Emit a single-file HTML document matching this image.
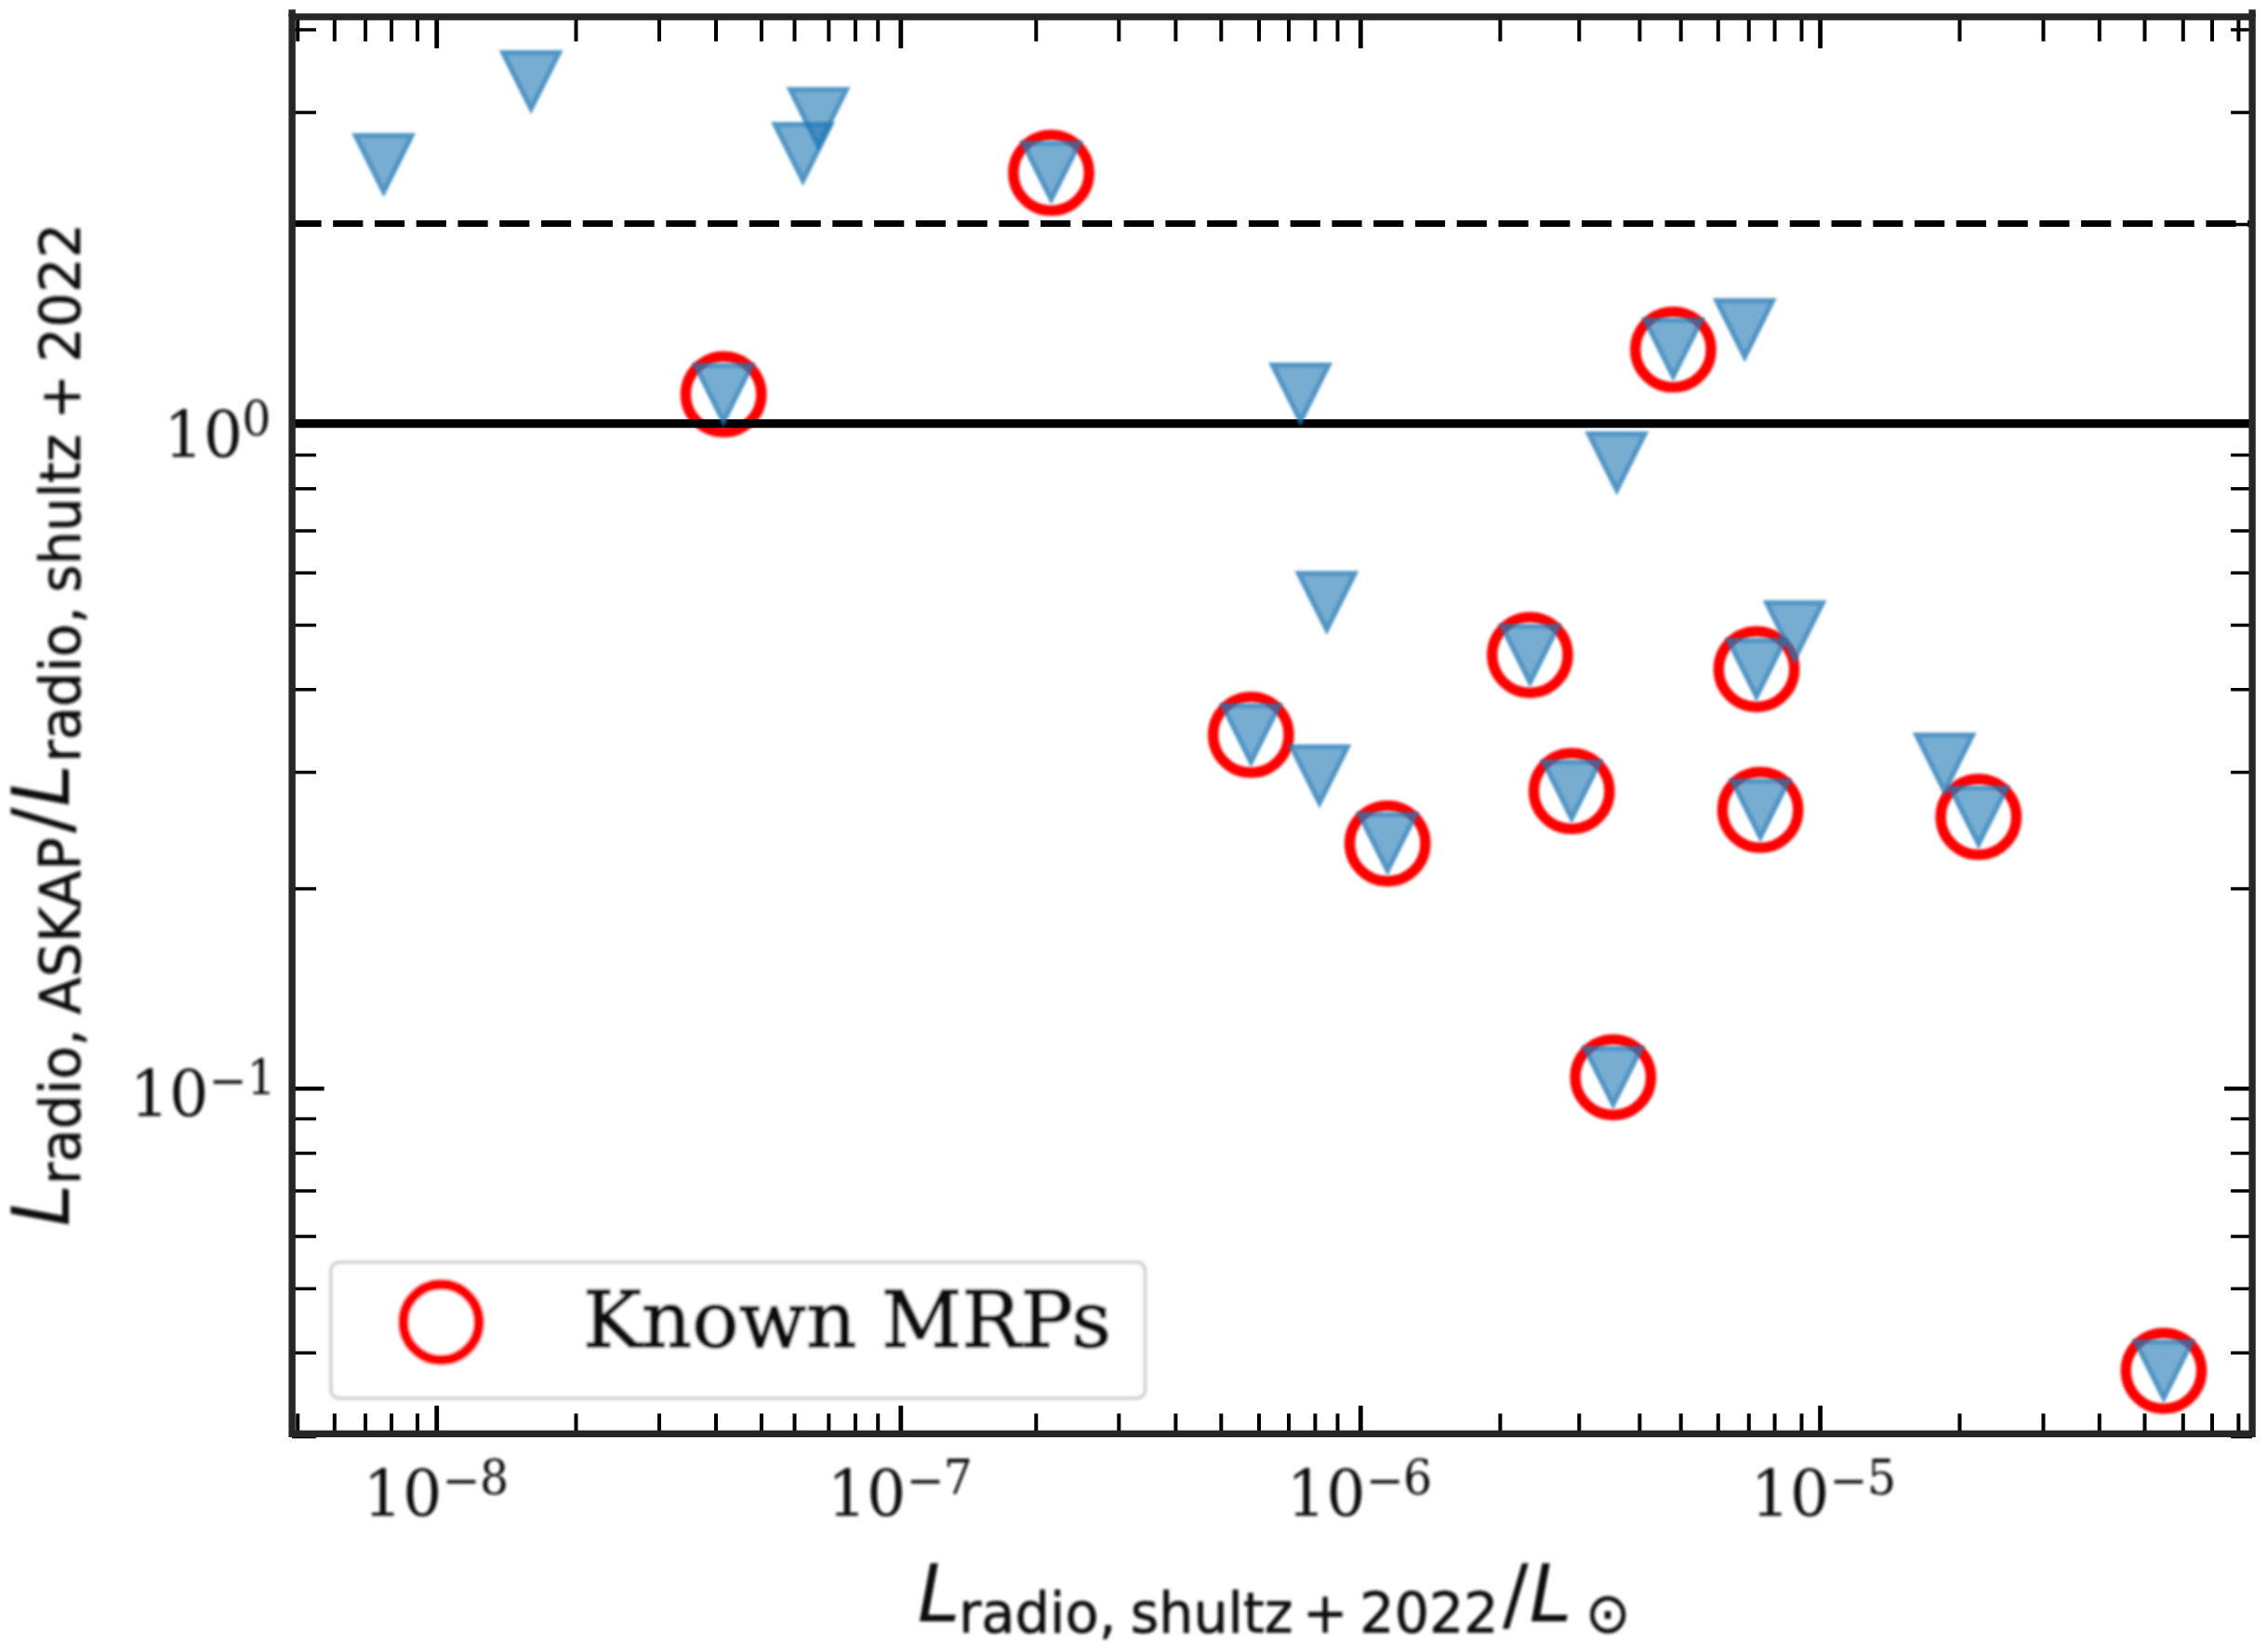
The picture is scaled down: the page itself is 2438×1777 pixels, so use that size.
<!DOCTYPE html>
<html lang="en"><head><meta charset="utf-8"><title>L radio ASKAP / L radio shultz+2022</title>
<style>html,body{margin:0;padding:0;background:#fff}body{width:2438px;height:1777px;overflow:hidden}svg{display:block}.se{font-family:"DejaVu Serif","Liberation Serif",serif;fill:#111}.sa{font-family:"DejaVu Sans","Liberation Sans",sans-serif;fill:#111}.it{font-style:italic}</style></head><body>
<svg width="2438" height="1777" viewBox="0 0 2438 1777">
<rect width="2438" height="1777" fill="#fff"/>
<defs><filter id="soft" x="0" y="0" width="2438" height="1777" filterUnits="userSpaceOnUse"><feGaussianBlur stdDeviation="1.5"/></filter><filter id="crisp" x="0" y="0" width="2438" height="1777" filterUnits="userSpaceOnUse"><feGaussianBlur stdDeviation="0.7"/></filter></defs>
<g id="rings" filter="url(#soft)">
<g fill="none" stroke="#ff0000" stroke-width="11.3">
<circle cx="1130.5" cy="185.9" r="40.7"/>
<circle cx="778.1" cy="424.2" r="40.7"/>
<circle cx="1799.4" cy="376.0" r="40.7"/>
<circle cx="1645.4" cy="704.6" r="40.7"/>
<circle cx="1889.0" cy="719.8" r="40.7"/>
<circle cx="1345.3" cy="790.4" r="40.7"/>
<circle cx="1492.2" cy="907.3" r="40.7"/>
<circle cx="1690.2" cy="850.9" r="40.7"/>
<circle cx="1893.1" cy="871.2" r="40.7"/>
<circle cx="2127.8" cy="878.7" r="40.7"/>
<circle cx="1734.8" cy="1158.8" r="40.7"/>
<circle cx="2326.9" cy="1474.6" r="40.7"/>
</g>
</g>
<g id="frame" filter="url(#crisp)">
<line x1="313.4" y1="240.5" x2="2422.1" y2="240.5" stroke="#000" stroke-width="6.9" stroke-dasharray="32.2 12.56" stroke-dashoffset="0"/>
<line x1="314.1" y1="455.7" x2="2422.1" y2="455.7" stroke="#000" stroke-width="9.2"/>
<path d="M320.2 18.1v26.3M320.2 1542.3v-21.8M359.8 18.1v26.3M359.8 1542.3v-21.8M393.0 18.1v26.3M393.0 1542.3v-21.8M421.0 18.1v26.3M421.0 1542.3v-21.8M448.9 18.1v26.3M448.9 1542.3v-21.8M619.5 18.1v26.3M619.5 1542.3v-21.8M709.0 18.1v26.3M709.0 1542.3v-21.8M770.0 18.1v26.3M770.0 1542.3v-21.8M818.9 18.1v26.3M818.9 1542.3v-21.8M854.5 18.1v26.3M854.5 1542.3v-21.8M891.3 18.1v26.3M891.3 1542.3v-21.8M919.9 18.1v26.3M919.9 1542.3v-21.8M944.2 18.1v26.3M944.2 1542.3v-21.8M1114.3 18.1v26.3M1114.3 1542.3v-21.8M1203.3 18.1v26.3M1203.3 1542.3v-21.8M1264.4 18.1v26.3M1264.4 1542.3v-21.8M1313.3 18.1v26.3M1313.3 1542.3v-21.8M1354.0 18.1v26.3M1354.0 1542.3v-21.8M1386.0 18.1v26.3M1386.0 1542.3v-21.8M1414.4 18.1v26.3M1414.4 1542.3v-21.8M1438.5 18.1v26.3M1438.5 1542.3v-21.8M1613.4 18.1v26.3M1613.4 1542.3v-21.8M1698.3 18.1v26.3M1698.3 1542.3v-21.8M1763.4 18.1v26.3M1763.4 1542.3v-21.8M1807.7 18.1v26.3M1807.7 1542.3v-21.8M1847.8 18.1v26.3M1847.8 1542.3v-21.8M1880.8 18.1v26.3M1880.8 1542.3v-21.8M1908.6 18.1v26.3M1908.6 1542.3v-21.8M1937.5 18.1v26.3M1937.5 1542.3v-21.8M2107.5 18.1v26.3M2107.5 1542.3v-21.8M2197.5 18.1v26.3M2197.5 1542.3v-21.8M2257.8 18.1v26.3M2257.8 1542.3v-21.8M2306.5 18.1v26.3M2306.5 1542.3v-21.8M2347.8 18.1v26.3M2347.8 1542.3v-21.8M2379.0 18.1v26.3M2379.0 1542.3v-21.8M2407.4 18.1v26.3M2407.4 1542.3v-21.8" stroke="#000" stroke-width="4.0" fill="none"/>
<path d="M314.1 31.9h25.9M2422.1 31.9h-23.0M314.1 121.0h25.9M2422.1 121.0h-23.0M314.1 241.4h25.9M2422.1 241.4h-23.0M314.1 489.4h25.9M2422.1 489.4h-23.0M314.1 525.7h25.9M2422.1 525.7h-23.0M314.1 571.0h25.9M2422.1 571.0h-23.0M314.1 616.2h25.9M2422.1 616.2h-23.0M314.1 672.5h25.9M2422.1 672.5h-23.0M314.1 741.8h25.9M2422.1 741.8h-23.0M314.1 830.7h25.9M2422.1 830.7h-23.0M314.1 956.0h25.9M2422.1 956.0h-23.0M314.1 1203.5h25.9M2422.1 1203.5h-23.0M314.1 1240.4h25.9M2422.1 1240.4h-23.0M314.1 1280.9h25.9M2422.1 1280.9h-23.0M314.1 1330.0h25.9M2422.1 1330.0h-23.0M314.1 1386.2h25.9M2422.1 1386.2h-23.0M314.1 1455.3h25.9M2422.1 1455.3h-23.0M314.1 1545.4h25.9M2422.1 1545.4h-23.0" stroke="#000" stroke-width="3.5" fill="none"/>
<path d="M469.7 18.1v33.9M469.7 1542.3v-30.3M968.8 18.1v33.9M968.8 1542.3v-30.3M1463.3 18.1v33.9M1463.3 1542.3v-30.3M1957.6 18.1v33.9M1957.6 1542.3v-30.3" stroke="#000" stroke-width="4.8" fill="none"/>
<path d="M314.1 455.7h34.5M2422.1 455.7h-30.0M314.1 1171.0h34.5M2422.1 1171.0h-30.0" stroke="#000" stroke-width="4.3" fill="none"/>
<rect x="314.1" y="18.1" width="2108.0" height="1524.2" fill="none" stroke="#262626" stroke-width="7.4"/>
<path d="M314.1 10.2V18.1M2422.1 10.2V18.1" stroke="#262626" stroke-width="7.4" fill="none"/>
</g>
<g id="marks" filter="url(#soft)">
<g fill="#1f77b4" fill-opacity="0.6" stroke="#1f77b4" stroke-opacity="0.46" stroke-width="5.4" stroke-linejoin="miter" stroke-miterlimit="10">
<path stroke="none" d="M378.2 143.2L447.0 143.2L412.6 212.0Z"/>
<path fill="none" d="M382.6 145.9L442.6 145.9L412.6 206.0Z"/>
<path stroke="none" d="M536.7 54.0L605.5 54.0L571.1 122.8Z"/>
<path fill="none" d="M541.1 56.7L601.1 56.7L571.1 116.8Z"/>
<path stroke="none" d="M829.1 131.2L897.9 131.2L863.5 200.0Z"/>
<path fill="none" d="M833.5 133.9L893.5 133.9L863.5 194.0Z"/>
<path stroke="none" d="M845.6 93.7L914.4 93.7L880.0 162.5Z"/>
<path fill="none" d="M850.0 96.4L910.0 96.4L880.0 156.5Z"/>
<path stroke="none" d="M1096.1 151.4L1164.9 151.4L1130.5 220.2Z"/>
<path fill="none" d="M1100.5 154.1L1160.5 154.1L1130.5 214.2Z"/>
<path stroke="none" d="M743.7 390.4L812.5 390.4L778.1 459.2Z"/>
<path fill="none" d="M748.1 393.1L808.1 393.1L778.1 453.2Z"/>
<path stroke="none" d="M1364.2 390.0L1433.0 390.0L1398.6 458.8Z"/>
<path fill="none" d="M1368.6 392.7L1428.6 392.7L1398.6 452.8Z"/>
<path stroke="none" d="M1765.0 341.8L1833.8 341.8L1799.4 410.6Z"/>
<path fill="none" d="M1769.4 344.5L1829.4 344.5L1799.4 404.6Z"/>
<path stroke="none" d="M1841.9 320.8L1910.7 320.8L1876.3 389.6Z"/>
<path fill="none" d="M1846.3 323.5L1906.3 323.5L1876.3 383.6Z"/>
<path stroke="none" d="M1704.3 463.9L1773.1 463.9L1738.7 532.7Z"/>
<path fill="none" d="M1708.7 466.6L1768.7 466.6L1738.7 526.7Z"/>
<path stroke="none" d="M1392.4 614.2L1461.2 614.2L1426.8 683.0Z"/>
<path fill="none" d="M1396.8 616.9L1456.8 616.9L1426.8 677.0Z"/>
<path stroke="none" d="M1611.0 671.0L1679.8 671.0L1645.4 739.8Z"/>
<path fill="none" d="M1615.4 673.7L1675.4 673.7L1645.4 733.8Z"/>
<path stroke="none" d="M1854.6 686.2L1923.4 686.2L1889.0 755.0Z"/>
<path fill="none" d="M1859.0 688.9L1919.0 688.9L1889.0 749.0Z"/>
<path stroke="none" d="M1895.6 645.8L1964.4 645.8L1930.0 714.6Z"/>
<path fill="none" d="M1900.0 648.5L1960.0 648.5L1930.0 708.6Z"/>
<path stroke="none" d="M1310.9 756.6L1379.7 756.6L1345.3 825.4Z"/>
<path fill="none" d="M1315.3 759.3L1375.3 759.3L1345.3 819.4Z"/>
<path stroke="none" d="M1384.6 800.7L1453.4 800.7L1419.0 869.5Z"/>
<path fill="none" d="M1389.0 803.4L1449.0 803.4L1419.0 863.5Z"/>
<path stroke="none" d="M1457.8 873.5L1526.6 873.5L1492.2 942.3Z"/>
<path fill="none" d="M1462.2 876.2L1522.2 876.2L1492.2 936.3Z"/>
<path stroke="none" d="M1655.8 817.1L1724.6 817.1L1690.2 885.9Z"/>
<path fill="none" d="M1660.2 819.8L1720.2 819.8L1690.2 879.9Z"/>
<path stroke="none" d="M1858.7 837.4L1927.5 837.4L1893.1 906.2Z"/>
<path fill="none" d="M1863.1 840.1L1923.1 840.1L1893.1 900.2Z"/>
<path stroke="none" d="M2056.8 787.9L2125.6 787.9L2091.2 856.7Z"/>
<path fill="none" d="M2061.2 790.6L2121.2 790.6L2091.2 850.7Z"/>
<path stroke="none" d="M2093.4 844.9L2162.2 844.9L2127.8 913.7Z"/>
<path fill="none" d="M2097.8 847.6L2157.8 847.6L2127.8 907.7Z"/>
<path stroke="none" d="M1700.4 1125.0L1769.2 1125.0L1734.8 1193.8Z"/>
<path fill="none" d="M1704.8 1127.7L1764.8 1127.7L1734.8 1187.8Z"/>
<path stroke="none" d="M2292.5 1440.8L2361.3 1440.8L2326.9 1509.6Z"/>
<path fill="none" d="M2296.9 1443.5L2356.9 1443.5L2326.9 1503.6Z"/>
</g>
<rect x="356" y="1357.7" width="875.5" height="146.3" rx="9" ry="9" fill="#fff" fill-opacity="0.8" stroke="#cccccc" stroke-opacity="0.85" stroke-width="4.0"/>
<circle cx="474.4" cy="1422.2" r="40.7" fill="none" stroke="#ff0000" stroke-width="11.3"/>
<text class="se" x="626.9" y="1448.6" font-size="82.4" stroke="#111" stroke-width="1.6" textLength="568.4" lengthAdjust="spacingAndGlyphs" transform="matrix(1 0 0 1.030 0 -43.46)">Known MRPs</text>
<text class="se" x="390.6" y="1631.0" font-size="68.6" stroke="#111" stroke-width="0.0" textLength="84.8" lengthAdjust="spacingAndGlyphs">10</text>
<text class="se" x="475.5" y="1608.9" font-size="49.0" stroke="#111" stroke-width="0.0">−</text>
<text class="se" x="516.0" y="1606.8" font-size="49.0" stroke="#111" stroke-width="0.0" transform="matrix(1 0 0 1.060 0 -96.41)">8</text>
<text class="se" x="889.7" y="1631.0" font-size="68.6" stroke="#111" stroke-width="0.0" textLength="84.8" lengthAdjust="spacingAndGlyphs">10</text>
<text class="se" x="974.6" y="1608.9" font-size="49.0" stroke="#111" stroke-width="0.0">−</text>
<text class="se" x="1014.8" y="1606.8" font-size="49.0" stroke="#111" stroke-width="0.0" transform="matrix(1 0 0 1.060 0 -96.41)">7</text>
<text class="se" x="1383.8" y="1631.0" font-size="68.6" stroke="#111" stroke-width="0.0" textLength="84.8" lengthAdjust="spacingAndGlyphs">10</text>
<text class="se" x="1468.7" y="1608.9" font-size="49.0" stroke="#111" stroke-width="0.0">−</text>
<text class="se" x="1509.1" y="1606.8" font-size="49.0" stroke="#111" stroke-width="0.0" transform="matrix(1 0 0 1.060 0 -96.41)">6</text>
<text class="se" x="1882.7" y="1631.0" font-size="68.6" stroke="#111" stroke-width="0.0" textLength="84.8" lengthAdjust="spacingAndGlyphs">10</text>
<text class="se" x="1967.6" y="1608.9" font-size="49.0" stroke="#111" stroke-width="0.0">−</text>
<text class="se" x="2007.9" y="1606.8" font-size="49.0" stroke="#111" stroke-width="0.0" transform="matrix(1 0 0 1.060 0 -96.41)">5</text>
<text class="se" x="176.3" y="492.0" font-size="68.6" stroke="#111" stroke-width="0.0" textLength="84.8" lengthAdjust="spacingAndGlyphs">10</text>
<text class="se" x="260.2" y="467.8" font-size="49.0" stroke="#111" stroke-width="0.0" transform="matrix(1 0 0 1.060 0 -28.07)">0</text>
<text class="se" x="139.7" y="1201.0" font-size="68.6" stroke="#111" stroke-width="0.0" textLength="84.8" lengthAdjust="spacingAndGlyphs">10</text>
<text class="se" x="224.6" y="1178.9" font-size="49.0" stroke="#111" stroke-width="0.0">−</text>
<text class="se" x="265.6" y="1176.8" font-size="49.0" stroke="#111" stroke-width="0.0" transform="matrix(1 0 0 1.060 0 -70.61)">1</text>
<g id="xlabel">
<text class="sa it" x="986.8" y="1744.0" font-size="82.4" stroke="#111" stroke-width="0.0" transform="matrix(1 0 0 1.045 0 -78.48)">L</text>
<text class="sa" x="1030.9" y="1756.2" font-size="57.7" stroke="#111" stroke-width="0.6" textLength="169.7" lengthAdjust="spacingAndGlyphs" transform="matrix(1 0 0 1.050 0 -87.81)">radio,</text>
<text class="sa" x="1215.8" y="1756.2" font-size="57.7" stroke="#111" stroke-width="0.6" textLength="174.7" lengthAdjust="spacingAndGlyphs" transform="matrix(1 0 0 1.050 0 -87.81)">shultz</text>
<text class="sa" x="1401.1" y="1756.2" font-size="57.7" stroke="#111" stroke-width="0.6" transform="matrix(1 0 0 1.050 0 -87.81)">+</text>
<text class="sa" x="1462.3" y="1756.2" font-size="57.7" stroke="#111" stroke-width="0.6" textLength="149.4" lengthAdjust="spacingAndGlyphs" transform="matrix(1 0 0 1.050 0 -87.81)">2022</text>
<text class="sa" x="1616.0" y="1744.0" font-size="82.4" stroke="#111" stroke-width="0.0" transform="matrix(1 0 0 1.030 0 -52.32)">/</text>
<text class="sa it" x="1644.7" y="1744.0" font-size="82.4" stroke="#111" stroke-width="0.0" transform="matrix(1 0 0 1.045 0 -78.48)">L</text>
<text class="sa" x="1705.0" y="1756.2" font-size="57.7" stroke="#111" stroke-width="0.6" transform="matrix(1 0 0 1.050 0 -87.81)">⊙</text>
</g>
<g id="ylabel" transform="translate(74.0 1315.5) rotate(-90)">
<text class="sa it" x="-3.7" y="0.0" font-size="82.4" stroke="#111" stroke-width="0.0" transform="matrix(1 0 0 1.045 0 -0.00)">L</text>
<text class="sa" x="41.1" y="12.2" font-size="57.7" stroke="#111" stroke-width="0.6" textLength="167.9" lengthAdjust="spacingAndGlyphs" transform="matrix(1 0 0 1.050 0 -0.61)">radio,</text>
<text class="sa" x="224.2" y="12.2" font-size="57.7" stroke="#111" stroke-width="0.6" textLength="190.4" lengthAdjust="spacingAndGlyphs" transform="matrix(1 0 0 1.050 0 -0.61)">ASKAP</text>
<text class="sa" x="419.2" y="0.0" font-size="82.4" stroke="#111" stroke-width="0.0" transform="matrix(1 0 0 1.030 0 -0.00)">/</text>
<text class="sa it" x="447.7" y="0.0" font-size="82.4" stroke="#111" stroke-width="0.0" transform="matrix(1 0 0 1.045 0 -0.00)">L</text>
<text class="sa" x="495.4" y="12.2" font-size="57.7" stroke="#111" stroke-width="0.6" textLength="167.9" lengthAdjust="spacingAndGlyphs" transform="matrix(1 0 0 1.050 0 -0.61)">radio,</text>
<text class="sa" x="678.3" y="12.2" font-size="57.7" stroke="#111" stroke-width="0.6" textLength="170.1" lengthAdjust="spacingAndGlyphs" transform="matrix(1 0 0 1.050 0 -0.61)">shultz</text>
<text class="sa" x="864.4" y="12.2" font-size="57.7" stroke="#111" stroke-width="0.6" transform="matrix(1 0 0 1.050 0 -0.61)">+</text>
<text class="sa" x="925.7" y="12.2" font-size="57.7" stroke="#111" stroke-width="0.6" textLength="149.9" lengthAdjust="spacingAndGlyphs" transform="matrix(1 0 0 1.050 0 -0.61)">2022</text>
</g>
</g></svg></body></html>
